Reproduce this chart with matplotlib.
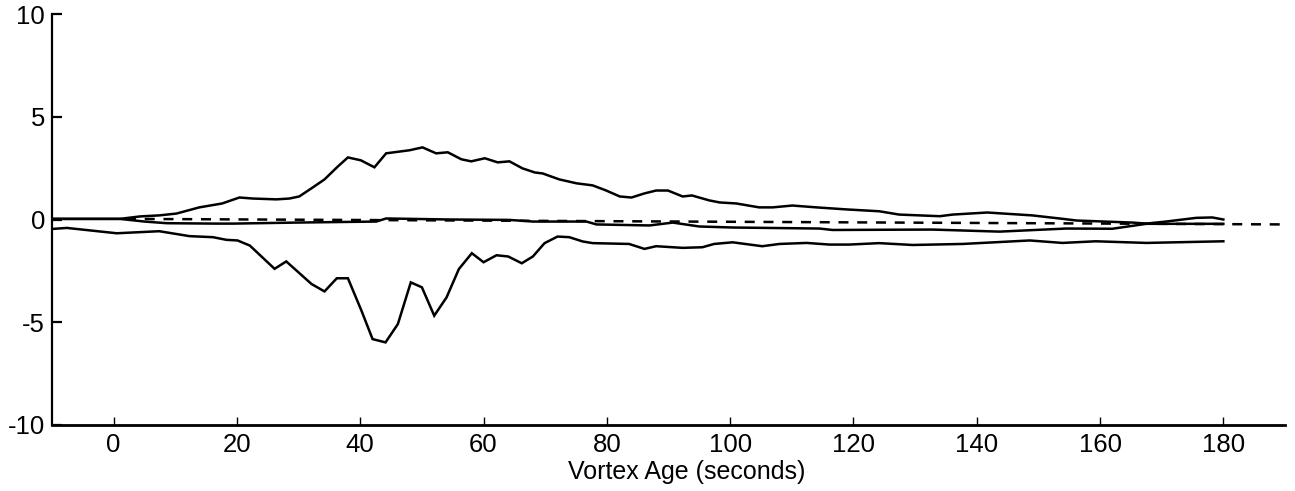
import matplotlib
matplotlib.use("Agg")
import matplotlib.pyplot as plt
import numpy as np

plt.rcParams['font.family'] = ['Liberation Sans', 'DejaVu Sans']

# curves as (vortex age s, value)
upper = [(-10, 0.03), (1, 0.03), (4.3, 0.15), (7.4, 0.2), (10.2, 0.29), (13.9, 0.59),
         (17.6, 0.78), (20.4, 1.07), (22.6, 1.02), (26.4, 0.98), (28.5, 1.02), (30.1, 1.12),
         (32.3, 1.56), (34.2, 1.95), (36.4, 2.59), (38, 3.02), (40.1, 2.88), (42.3, 2.54),
         (44.2, 3.22), (48, 3.37), (50.1, 3.51), (52.3, 3.22), (54.2, 3.27), (56.4, 2.93),
         (58, 2.83), (60.2, 2.98), (62.3, 2.78), (64.2, 2.83), (66.3, 2.49), (68.3, 2.29),
         (69.6, 2.24), (72.3, 1.95), (75.1, 1.76), (77.7, 1.66), (79.9, 1.41), (82.1, 1.12),
         (84, 1.07), (86.1, 1.27), (88, 1.41), (89.9, 1.41), (92.3, 1.12), (93.8, 1.17),
         (96.6, 0.93), (98.3, 0.83), (101, 0.78), (104.7, 0.59), (106.9, 0.59), (110.1, 0.68),
         (114, 0.59), (118.9, 0.49), (124.2, 0.40), (127.4, 0.24), (134, 0.16), (136.1, 0.24),
         (141.7, 0.34), (149, 0.2), (154, 0.03), (156.2, -0.05), (165.3, -0.15), (167.5, -0.2),
         (170.7, -0.1), (175.6, 0.08), (178.2, 0.1), (180, 0.0)]

middle = [(-10, 0.03), (1, 0.03), (5, -0.1), (8.6, -0.18), (16.7, -0.2), (19.3, -0.2),
          (29.6, -0.15), (42.6, -0.1), (44.2, 0.05), (54.5, 0.0), (64.2, -0.02), (68, -0.1),
          (76.7, -0.1), (78.3, -0.24), (86.9, -0.29), (90.7, -0.15), (95, -0.34), (100.4, -0.39),
          (114.5, -0.44), (116.6, -0.51), (124.2, -0.5), (132.8, -0.49), (143.7, -0.59),
          (154.5, -0.44), (162, -0.45), (167.5, -0.21), (180, -0.21)]

lower = [(-10, -0.46), (-7.6, -0.41), (0.5, -0.67), (7.4, -0.57), (12.3, -0.81), (16.1, -0.86),
         (18.3, -0.99), (20.1, -1.02), (22.1, -1.27), (26.1, -2.4), (28, -2.04), (32.1, -3.14),
         (34.2, -3.5), (36.2, -2.86), (38, -2.86), (40.2, -4.44), (42, -5.82), (44.1, -5.98),
         (46.1, -5.09), (48.2, -3.06), (50, -3.3), (52, -4.68), (54, -3.79), (56, -2.41),
         (58.1, -1.64), (60, -2.08), (62.1, -1.74), (64, -1.8), (66.2, -2.13), (68, -1.8),
         (69.9, -1.15), (72, -0.83), (73.9, -0.86), (76.1, -1.07), (77.7, -1.15), (83.6, -1.19),
         (86.1, -1.43), (88, -1.3), (92.3, -1.38), (95.5, -1.35), (97.4, -1.19), (100.4, -1.11),
         (105.2, -1.3), (108, -1.19), (112.4, -1.14), (116.1, -1.22), (119.3, -1.22),
         (124.2, -1.15), (129.6, -1.24), (137.7, -1.19), (148.6, -1.02), (153.9, -1.14),
         (159.3, -1.06), (167.5, -1.14), (180, -1.06)]

baseline = [(2, 0.03), (190, -0.24)]

xticks = [0, 20, 40, 60, 80, 100, 120, 140, 160, 180]
yticks = [-10, -5, 0, 5, 10]

fig = plt.figure(figsize=(12.95, 4.91), dpi=100)
ax = fig.add_axes([52 / 1295, 1 - 425 / 491, 1233 / 1295, 411 / 491])

for curve in (upper, middle, lower):
    xy = np.array(curve)
    ax.plot(xy[:, 0], xy[:, 1], color='black', lw=1.8, solid_joinstyle='miter')
xy = np.array(baseline)
ax.plot(xy[:, 0], xy[:, 1], color='black', lw=1.8, dashes=(4, 3.5))

ax.set_xlim(-10, 190)
ax.set_ylim(-10, 10)
ax.set_xticks(xticks)
ax.set_yticks(yticks)
ax.set_yticklabels([str(t) for t in yticks])
ax.spines['top'].set_visible(False)
ax.spines['right'].set_visible(False)
ax.spines['left'].set_linewidth(1.6)
ax.spines['bottom'].set_linewidth(2.0)
ax.tick_params(axis='x', direction='in', length=6, width=1.0, pad=6, labelsize=18.5)
ax.tick_params(axis='y', direction='in', length=7, width=1.6, pad=5, labelsize=18.5)
ax.set_xlabel('Vortex Age (seconds)', fontsize=18)
ax.xaxis.set_label_coords(0.515, -0.086)

fig.savefig('out.png', dpi=100)
